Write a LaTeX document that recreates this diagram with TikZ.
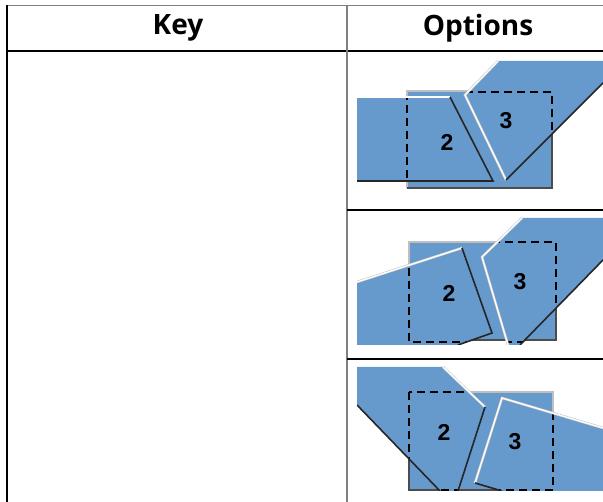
\documentclass[tikz,border=0pt]{standalone}
\usepackage{fontspec}
\newfontfamily\headfont{Open Sans}
\newfontfamily\digitfont{Liberation Sans}
\definecolor{paneblue}{HTML}{6699CC}
\definecolor{rulegray}{HTML}{808080}
\begin{document}
\begin{tikzpicture}[x=1pt,y=-1pt,
  headtext/.style={font=\headfont\bfseries\fontsize{28}{32}\selectfont, inner sep=0pt},
  digit/.style={font=\digitfont\bfseries\fontsize{23}{26}\selectfont, inner sep=0pt},
  gridline/.style={draw=black, line width=2pt},
  grayline/.style={draw=rulegray, line width=2pt},
  ribbon/.style={fill=paneblue},
  hiedge/.style={draw=black!22, double=white, double distance=1.3pt, line width=0.6pt},
  darkedge/.style={draw=black!85, line width=1.6pt},
  framelight/.style={draw=black!25, line width=1.6pt},
  framedark/.style={draw=black!70, line width=1.6pt},
  cellbox/.style={draw=black, line width=1.5pt, dash pattern=on 8pt off 5pt},
]
\useasboundingbox (0,0) rectangle (603,502);

% ---------- table grid ----------
\draw[grayline, line width=1.5pt] (6,5.5) -- (603,5.5);
\draw[gridline] (6.5,5) -- (6.5,502);
\draw[gridline] (6,51) -- (603,51);
\draw[grayline, line width=2.5pt] (347,5) -- (347,502);
\draw[gridline] (347,210) -- (603,210);
\draw[gridline] (347,359) -- (603,359);

\node[headtext] (keyhead) at (178,28) {Key};
\node[headtext] (opthead) at (478,28) {Options};

% ---------- first option: straight left pane, slanted right pane ----------
\begin{scope}
  \clip (357,57) rectangle (603,197);
  \fill[paneblue] (407,91) rectangle (552,188);
  \draw[framelight] (407,188) -- (407,91) -- (552,91);
  \draw[framedark] (407,188) -- (552,188) -- (552,91);
  \fill[ribbon] (357,97) -- (450,97) -- (493,181) -- (357,181) -- cycle;
  \fill[ribbon] (465,95) -- (498,61) -- (603,61) -- (603,83) -- (506,180) -- cycle;
  \begin{scope}
    \clip (357,97) -- (450,97) -- (493,181) -- (357,181) -- cycle
          (465,95) -- (498,61) -- (603,61) -- (603,83) -- (506,180) -- cycle;
    \draw[cellbox] (407,92) rectangle (552,188);
  \end{scope}
  \draw[hiedge] (357,97) -- (450,97);
  \draw[darkedge] (450,97) -- (493,181) -- (357,181);
  \draw[hiedge] (498,61) -- (465,95) -- (506,180);
  \draw[darkedge] (603,83) -- (506,180);
\end{scope}
\node[digit] (a2) at (447,142) {2};
\node[digit] (a3) at (506,121) {3};

% ---------- second option: both panes tilted ----------
\begin{scope}
  \clip (357,218) rectangle (603,345);
  \fill[paneblue] (409,242) rectangle (556,340);
  \draw[framelight] (409,340) -- (409,242) -- (556,242);
  \draw[framedark] (409,340) -- (556,340) -- (556,242);
  \fill[ribbon] (357,282) -- (462,248) -- (492,333) -- (458,345) -- (357,345) -- cycle;
  \fill[ribbon] (482,257) -- (522,218) -- (603,218) -- (603,260) -- (520,345) -- (508,345) -- cycle;
  \begin{scope}
    \clip (357,282) -- (462,248) -- (492,333) -- (458,345) -- (357,345) -- cycle
          (482,257) -- (522,218) -- (603,218) -- (603,260) -- (520,345) -- (508,345) -- cycle;
    \draw[cellbox] (409,242) rectangle (556,342);
  \end{scope}
  \draw[hiedge] (357,282) -- (462,248);
  \draw[darkedge] (462,248) -- (492,333) -- (458,345);
  \draw[hiedge] (522,218) -- (482,257) -- (508,345);
  \draw[darkedge] (603,260) -- (520,345);
\end{scope}
\node[digit] (b2) at (449,293) {2};
\node[digit] (b3) at (520,282) {3};

% ---------- third option: panes falling from the upper left ----------
\begin{scope}
  \clip (357,367) rectangle (603,491);
  \fill[paneblue] (409,392) rectangle (553,490);
  \draw[framelight] (409,392) -- (553,392) -- (553,490);
  \draw[framedark] (409,392) -- (409,490) -- (553,490);
  \fill[ribbon] (357,367) -- (443,367) -- (485,407) -- (458,491) -- (440,491) -- (357,405) -- cycle;
  \fill[ribbon] (502,398) -- (603,428) -- (603,491) -- (502,491) -- (475,483) -- cycle;
  \begin{scope}
    \clip (357,367) -- (443,367) -- (485,407) -- (458,491) -- (440,491) -- (357,405) -- cycle
          (502,398) -- (603,428) -- (603,491) -- (502,491) -- (475,483) -- cycle;
    \draw[cellbox] (409,392) rectangle (553,490);
  \end{scope}
  \draw[hiedge] (443,367) -- (485,407);
  \draw[darkedge] (485,407) -- (458,491);
  \draw[darkedge] (357,405) -- (440,491);
  \draw[hiedge] (475,483) -- (502,398) -- (603,428);
  \draw[darkedge] (475,483) -- (502,491);
\end{scope}
\node[digit] (c2) at (444,432) {2};
\node[digit] (c3) at (515,442) {3};
\end{tikzpicture}
\end{document}
